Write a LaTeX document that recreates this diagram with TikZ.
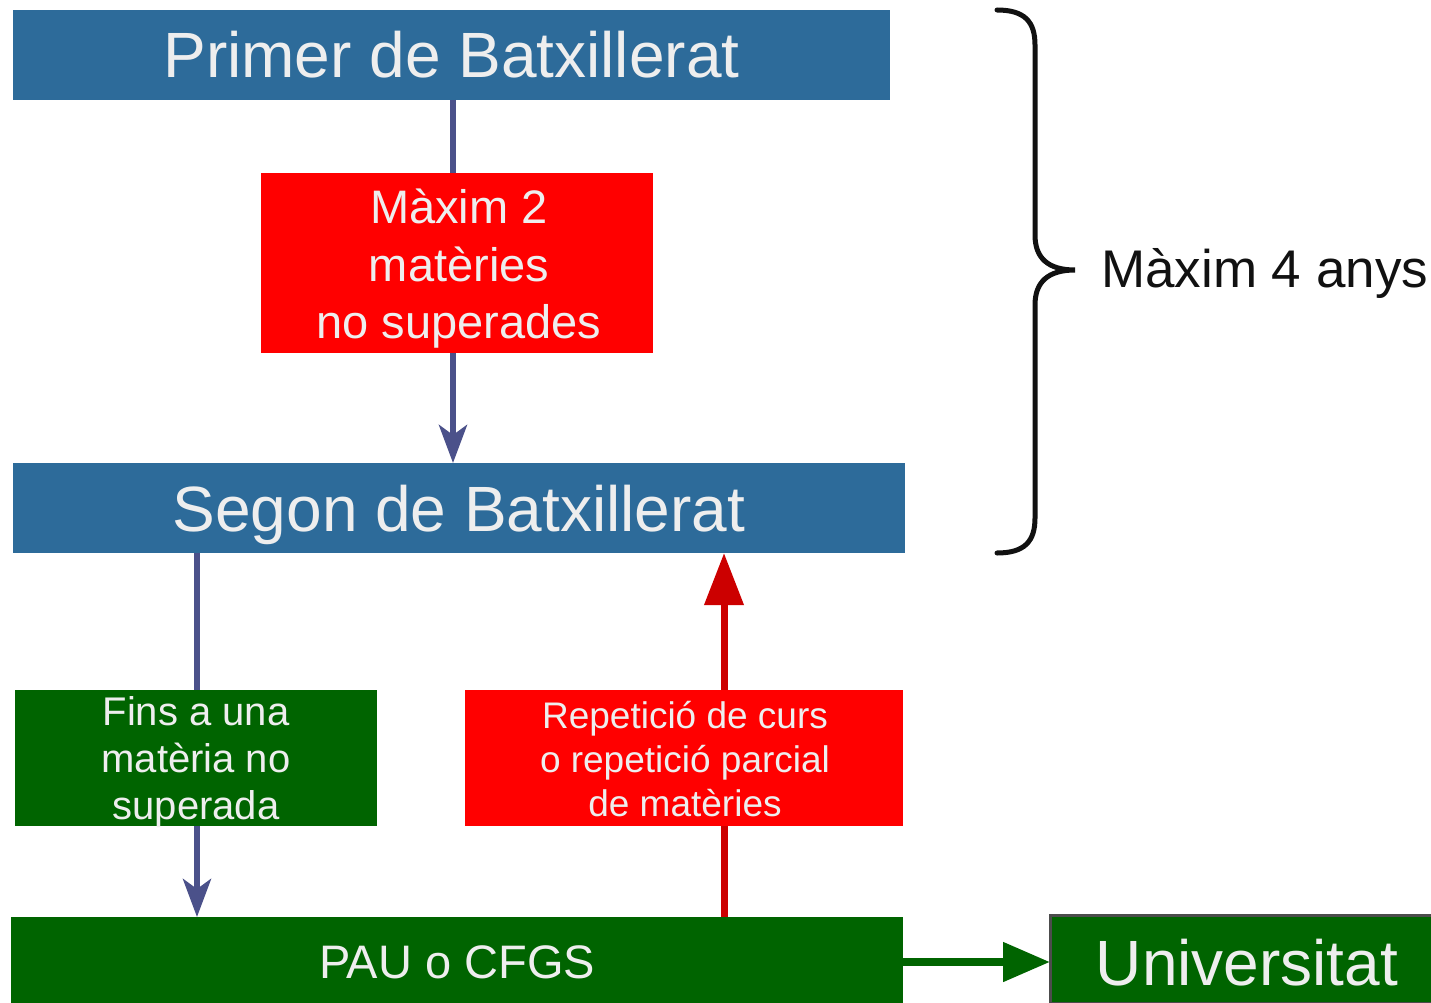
\documentclass[tikz,border=0pt]{standalone}
\usepackage{fontspec}
\setmainfont{Liberation Sans}
\usetikzlibrary{arrows.meta}
\definecolor{boxblue}{HTML}{2D6B9A}
\definecolor{boxred}{HTML}{FF0000}
\definecolor{boxgreen}{HTML}{006400}
\definecolor{txtlight}{HTML}{EEEEEE}
\definecolor{arrblue}{HTML}{4B518A}
\definecolor{arrred}{HTML}{CC0000}
\definecolor{bracecol}{HTML}{111111}
\tikzset{
  box/.style={rectangle, inner sep=0pt, outer sep=0pt},
  txt/.style={inner sep=0pt, text=txtlight, align=center},
  bluebox/.style={box, fill=boxblue},
  redbox/.style={box, fill=boxred},
  greenbox/.style={box, fill=boxgreen},
  bluearrow/.style={draw=arrblue, line width=6pt, -{Stealth[length=38pt, width=28pt, inset=10pt]}},
  bluelink/.style={draw=arrblue, line width=6pt},
  redarrow/.style={draw=arrred, line width=7pt, -{Triangle[length=52pt, width=38pt]}},
  redlink/.style={draw=arrred, line width=7pt},
  greenarrow/.style={draw=boxgreen, line width=8pt, -{Triangle[length=47pt, width=38pt]}},
}
\begin{document}
\begin{tikzpicture}[x=1pt,y=-1pt]
\useasboundingbox (0,0) rectangle (1431,1003);
% boxes
\node[bluebox, minimum width=877pt, minimum height=90pt] (primer) at (451.5,55) {};
\node[txt, font=\fontsize{64}{64}\selectfont] (primer-t) at (primer.center) {Primer de Batxillerat};
\node[redbox, minimum width=392pt, minimum height=180pt] (red1) at (457,263) {};
\node[txt, font=\fontsize{47}{57.5}\selectfont] (red1-t) at ([xshift=2pt,yshift=-6pt]red1.center) {Màxim 2\\matèries\\no superades};
\node[bluebox, minimum width=892pt, minimum height=90pt] (segon) at (459,508) {};
\node[txt, font=\fontsize{64}{64}\selectfont] (segon-t) at ([yshift=-7pt]segon.center) {Segon de Batxillerat};
\node[greenbox, minimum width=362pt, minimum height=136pt] (green1) at (196,758) {};
\node[txt, font=\fontsize{40}{47}\selectfont] (green1-t) at ([yshift=-4pt]green1.center) {Fins a una\\matèria no\\superada};
\node[redbox, minimum width=438pt, minimum height=136pt] (red2) at (684,758) {};
\node[txt, font=\fontsize{37}{44}\selectfont] (red2-t) at ([xshift=1pt,yshift=-1pt]red2.center) {Repetició de curs\\o repetició parcial\\de matèries};
\node[greenbox, minimum width=892pt, minimum height=86pt] (pau) at (457,960) {};
\node[txt, font=\fontsize{47}{47}\selectfont] (pau-t) at ([yshift=-2pt]pau.center) {PAU o CFGS};
\node[greenbox, draw=black!70, line width=3pt, minimum width=382pt, minimum height=88pt] (univ) at (1241,959) {};
\node[txt, font=\fontsize{64}{64}\selectfont] (univ-t) at ([xshift=6pt,yshift=-4pt]univ.center) {Universitat};
% connectors
\draw[bluelink] (primer.south -| 453,0) -- (red1.north -| 453,0);
\draw[bluearrow] (red1.south -| 453,0) -- (segon.north -| 453,0);
\draw[bluelink] (segon.south -| 197,0) -- (green1.north -| 197,0);
\draw[bluearrow] (green1.south -| 197,0) -- (pau.north -| 197,0);
\draw[redlink] (pau.north -| 724,0) -- (red2.south -| 724,0);
\draw[redarrow] (red2.north -| 724,0) -- (segon.south -| 724,0);
\draw[greenarrow] (pau.east |- 0,962) -- (univ.west |- 0,962);
% brace
\coordinate (btip) at (1075,270);
\draw[bracecol, line width=5pt, line cap=round]
  (997,10) .. controls (1025,10) and (1035,22) .. (1035,45)
  -- (1035,235) .. controls (1035,258) and (1048,270) .. (btip)
  .. controls (1048,270) and (1035,282) .. (1035,305)
  -- (1035,518) .. controls (1035,541) and (1025,553) .. (997,553);
\node[anchor=base west, inner sep=0pt, text=bracecol, font=\fontsize{53}{53}\selectfont] (lbl) at (1101,287) {Màxim 4 anys};
\end{tikzpicture}
\end{document}
